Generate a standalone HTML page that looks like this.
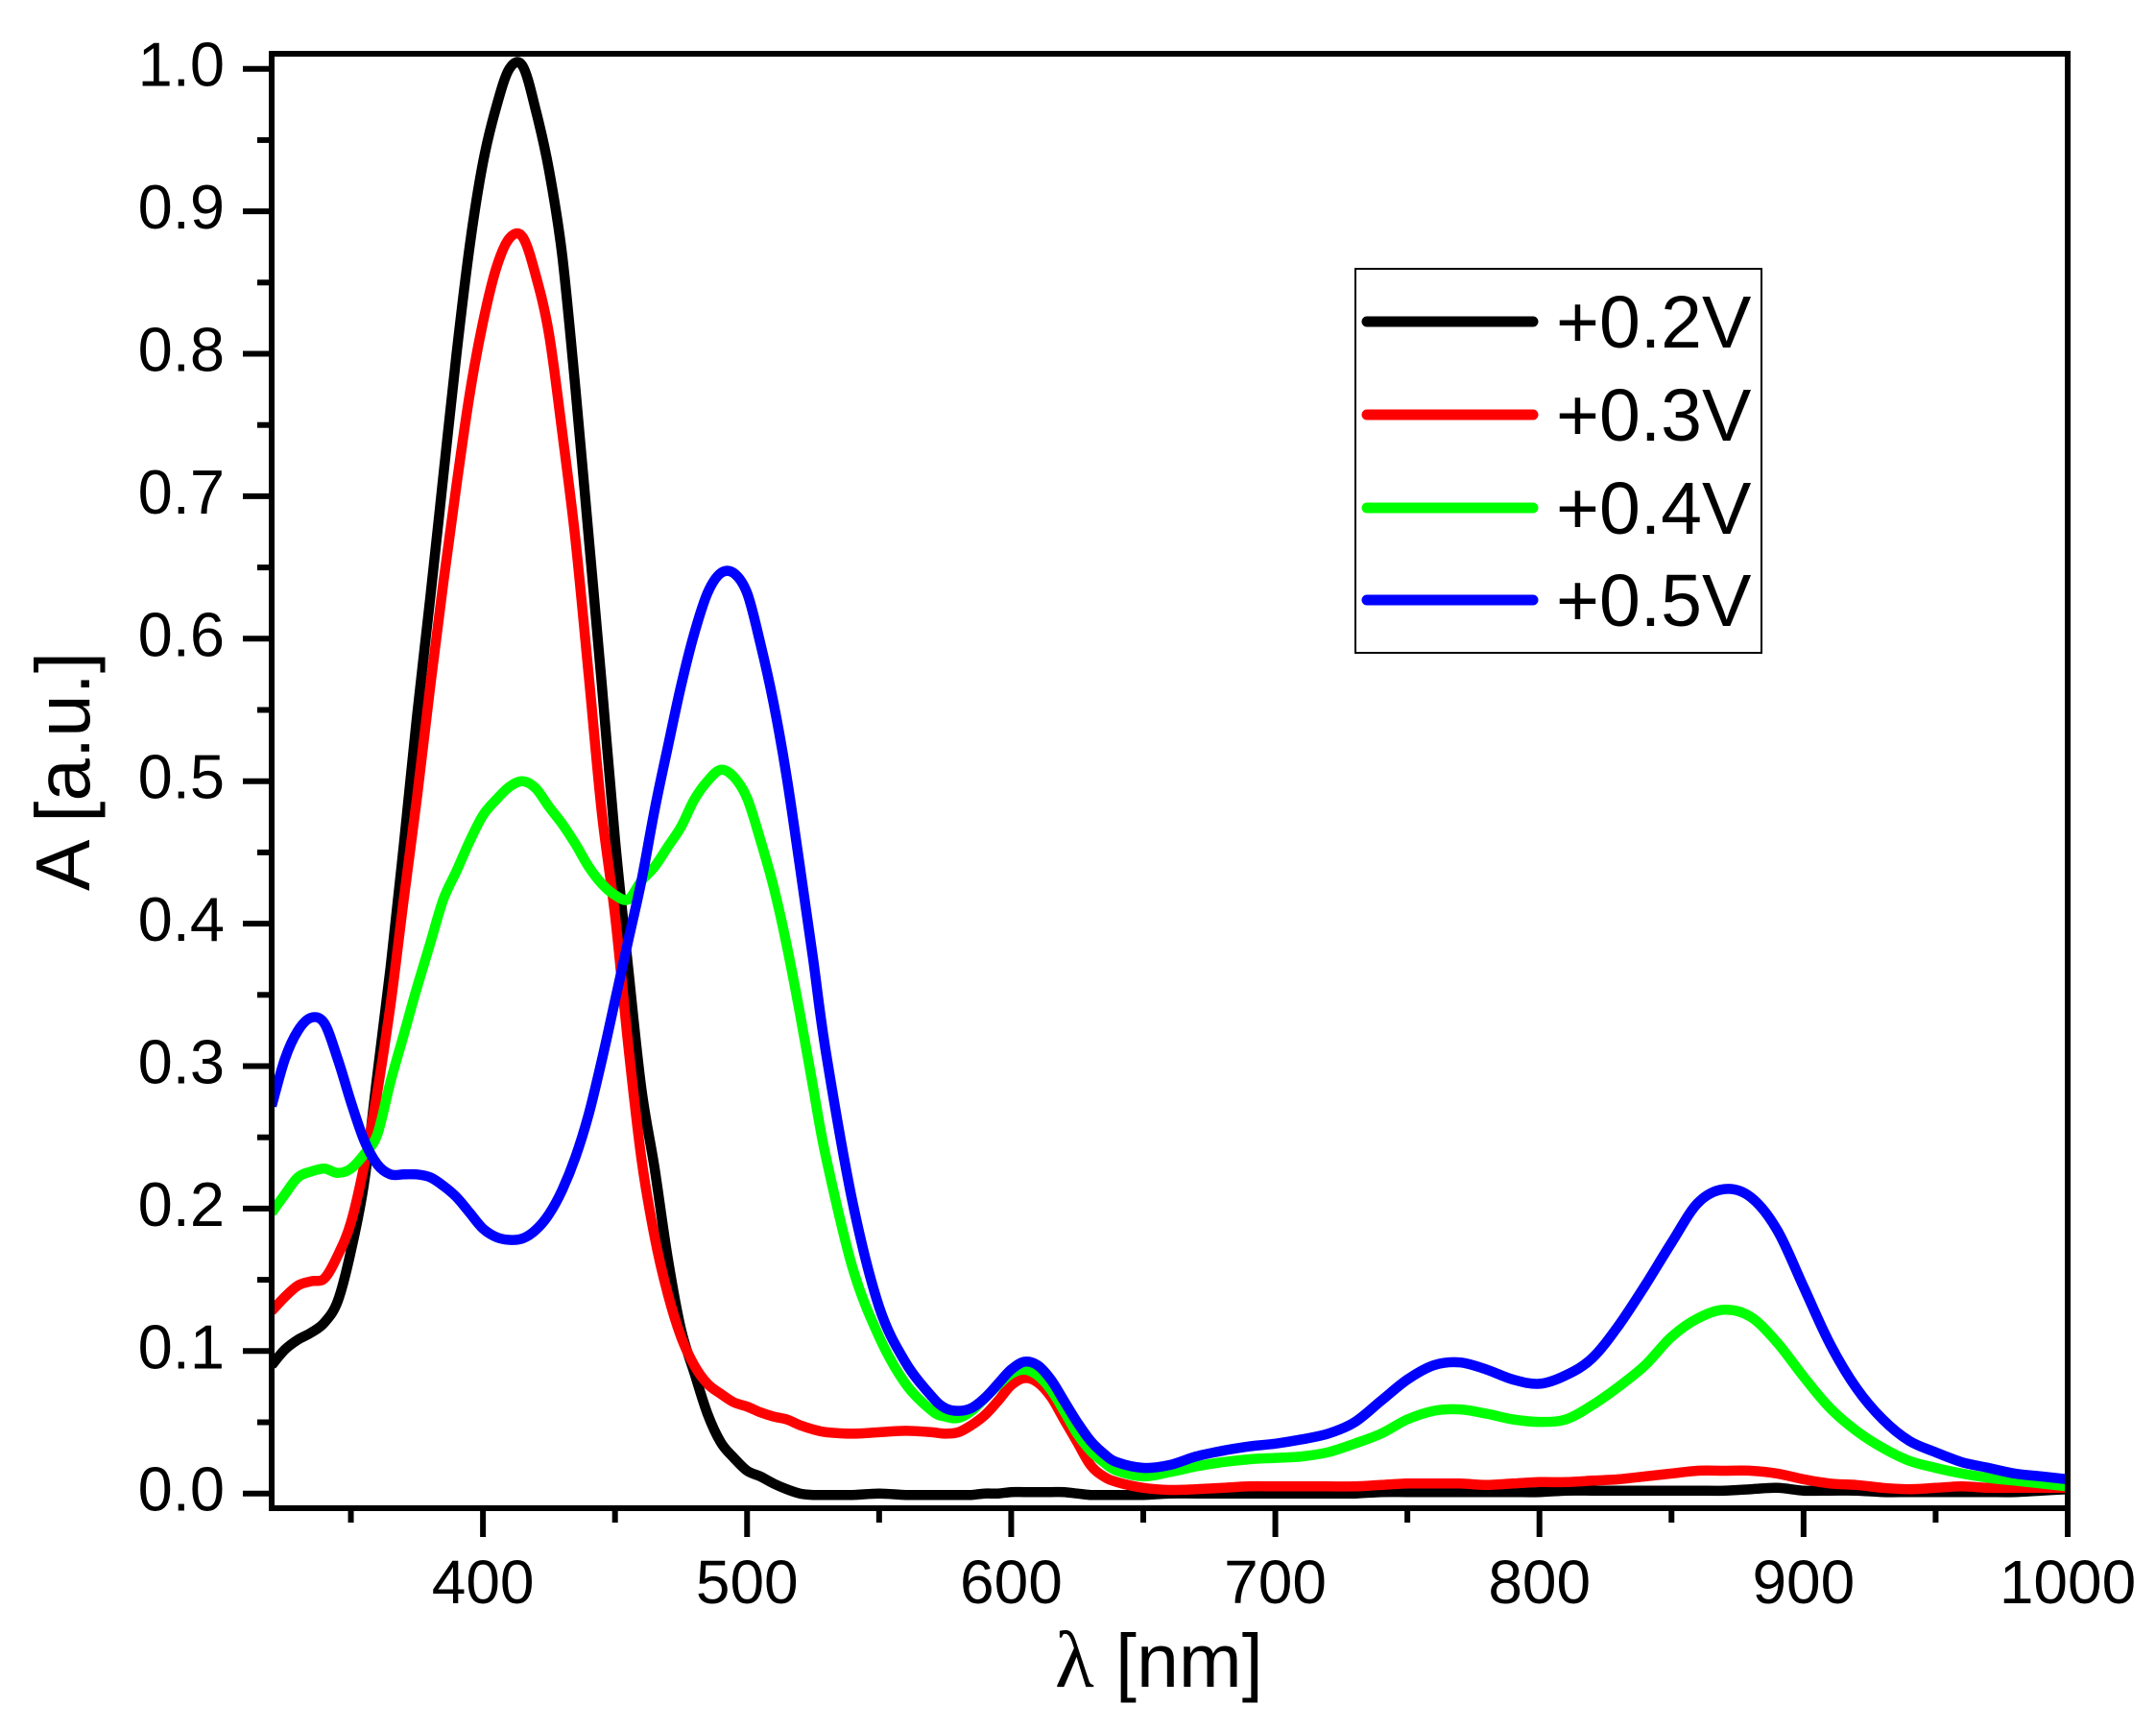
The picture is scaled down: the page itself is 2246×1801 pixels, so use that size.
<!DOCTYPE html>
<html lang="en">
<head>
<meta charset="utf-8">
<title>Absorbance spectra</title>
<style>
html,body{margin:0;padding:0;background:#fff;}
svg{display:block;}
text{font-family:"Liberation Sans",sans-serif;fill:#000;}
</style>
</head>
<body>
<svg id="chart" xmlns="http://www.w3.org/2000/svg" width="2246" height="1801" viewBox="0 0 2246 1801">
  <rect x="0" y="0" width="2246" height="1801" fill="#fff"/>
  <defs>
    <clipPath id="plot-clip"><rect x="283" y="56" width="1871" height="1515"/></clipPath>
  </defs>
  <g id="series-layer" clip-path="url(#plot-clip)"></g>
  <g id="axes-layer"></g>
  <text transform="translate(93,928) rotate(-90)" font-size="80">A [a.u.]</text>
  <text y="1757" font-size="79"><tspan x="1099" font-family="Liberation Serif" font-size="84">λ</tspan><tspan x="1162">[nm]</tspan></text>
  <g>
    <rect x="1412" y="280" width="423" height="400" fill="#fff" stroke="#000" stroke-width="2"/>
    <line x1="1424" x2="1597" y1="335" y2="335" stroke="#000" stroke-width="11" stroke-linecap="round"/>
    <text x="1621" y="362" font-size="77">+0.2V</text>
    <line x1="1424" x2="1597" y1="432" y2="432" stroke="#f00" stroke-width="11" stroke-linecap="round"/>
    <text x="1621" y="459" font-size="77">+0.3V</text>
    <line x1="1424" x2="1597" y1="529" y2="529" stroke="#0f0" stroke-width="11" stroke-linecap="round"/>
    <text x="1621" y="556" font-size="77">+0.4V</text>
    <line x1="1424" x2="1597" y1="625" y2="625" stroke="#00f" stroke-width="11" stroke-linecap="round"/>
    <text x="1621" y="652" font-size="77">+0.5V</text>
  </g>
</svg>
<script>
const wavelengths = [320,325,330,335,340,345,350,355,360,365,370,375,380,385,390,395,400,405,410,415,420,425,430,435,440,445,450,455,460,465,470,475,480,485,490,495,500,505,510,515,520,525,530,540,550,560,570,575,580,585,590,595,600,605,610,615,620,625,630,635,640,650,660,670,680,690,700,710,720,730,740,750,760,770,780,790,800,810,820,830,840,850,860,870,880,890,900,910,920,930,940,950,960,970,980,990,1000];
const seriesV02 = [.09,.101,.108,.113,.12,.135,.17,.218,.294,.369,.455,.545,.628,.714,.80,.876,.934,.973,1.0,1.002,.971,.929,.869,.776,.672,.568,.459,.369,.284,.228,.165,.115,.085,.056,.036,.025,.016,.012,.007,.003,0,-.001,-.001,-.001,0,-.001,-.001,-.001,-.001,-.001,0,0,.001,.001,.001,.001,.001,0,-.001,-.001,-.001,-.001,0,0,0,0,0,0,0,0,.001,.001,.001,.001,.001,.001,.001,.002,.002,.002,.002,.002,.002,.002,.003,.004,.002,.002,.002,.001,.001,.001,.001,.001,.001,.002,.003];
const seriesV03 = [.128,.138,.146,.149,.151,.167,.19,.23,.282,.343,.417,.488,.566,.639,.708,.772,.822,.86,.881,.882,.855,.814,.745,.67,.575,.478,.406,.315,.235,.18,.14,.11,.09,.077,.07,.064,.061,.057,.054,.052,.048,.045,.043,.042,.043,.044,.043,.042,.043,.048,.055,.065,.076,.081,.078,.068,.052,.036,.02,.012,.008,.004,.0025,.003,.004,.005,.005,.005,.005,.005,.006,.007,.007,.007,.006,.007,.008,.008,.009,.01,.012,.014,.016,.016,.016,.014,.01,.007,.006,.004,.003,.004,.005,.004,.004,.004,.004];
const seriesV04 = [.197,.21,.222,.226,.228,.225,.228,.238,.252,.289,.322,.355,.386,.417,.437,.458,.476,.487,.496,.5,.495,.482,.47,.456,.44,.428,.42,.417,.43,.44,.454,.468,.487,.5,.508,.503,.488,.459,.426,.385,.337,.285,.235,.158,.11,.077,.058,.054,.053,.058,.067,.076,.084,.087,.083,.073,.058,.042,.03,.022,.016,.012,.015,.019,.022,.024,.025,.026,.029,.035,.042,.052,.058,.059,.056,.052,.0503,.052,.062,.075,.09,.11,.123,.129,.124,.106,.082,.06,.044,.032,.023,.018,.014,.011,.009,.007,.005];
const seriesV05 = [.272,.305,.325,.334,.33,.305,.275,.248,.231,.224,.224,.224,.222,.216,.208,.197,.186,.18,.178,.179,.185,.196,.213,.236,.266,.304,.346,.388,.43,.48,.524,.567,.6035,.632,.646,.646,.632,.597,.555,.503,.44,.375,.308,.204,.131,.092,.068,.06,.058,.06,.067,.077,.087,.0925,.09,.08,.065,.05,.037,.028,.022,.018,.02,.026,.03,.033,.035,.038,.042,.05,.065,.08,.09,.092,.087,.08,.077,.083,.095,.118,.146,.176,.204,.2137,.208,.185,.145,.105,.074,.052,.037,.029,.022,.018,.014,.012,.01];
const xTickLabels = ["400","500","600","700","800","900","1000"];
const xMinorTickValues = [350,450,550,650,750,850,950];
const yTickLabels = ["0.0","0.1","0.2","0.3","0.4","0.5","0.6","0.7","0.8","0.9","1.0"];
const yMinorTickValues = [0.05,0.15,0.25,0.35,0.45,0.55,0.65,0.75,0.85,0.95];

const SVG_NS = "http://www.w3.org/2000/svg";
function xScale(v){ return 283 + (v - 320) * (2154 - 283) / 680; }
function yScale(v){ return 1555.7 - v * 1484; }

function smoothPath(xs, ys){
  const pts = xs.map((x, i) => [xScale(x), yScale(ys[i])]);
  let d = "M" + pts[0][0].toFixed(1) + "," + pts[0][1].toFixed(1);
  for (let i = 0; i < pts.length - 1; i++){
    const p0 = pts[Math.max(i - 1, 0)], p1 = pts[i], p2 = pts[i + 1], p3 = pts[Math.min(i + 2, pts.length - 1)];
    const c1x = p1[0] + (p2[0] - p0[0]) / 6, c1y = p1[1] + (p2[1] - p0[1]) / 6;
    const c2x = p2[0] - (p3[0] - p1[0]) / 6, c2y = p2[1] - (p3[1] - p1[1]) / 6;
    d += "C" + c1x.toFixed(1) + "," + c1y.toFixed(1) + " " + c2x.toFixed(1) + "," + c2y.toFixed(1) + " " + p2[0].toFixed(1) + "," + p2[1].toFixed(1);
  }
  return d;
}

const seriesLayer = document.getElementById("series-layer");
const axesLayer = document.getElementById("axes-layer");

function addSeries(values, color, name){
  const el = document.createElementNS(SVG_NS, "path");
  
  
  el.setAttribute("d", smoothPath(wavelengths, values));
  el.setAttribute("fill", "none");
  el.setAttribute("stroke", color);
  el.setAttribute("stroke-width", "10.5");
  el.setAttribute("stroke-linejoin", "round");
  seriesLayer.appendChild(el);
}
addSeries(seriesV02, "#000", "series-0.2v");
addSeries(seriesV03, "#f00", "series-0.3v");
addSeries(seriesV04, "#0f0", "series-0.4v");
addSeries(seriesV05, "#00f", "series-0.5v");

function addLine(x1, y1, x2, y2, name){
  const el = document.createElementNS(SVG_NS, "line");
  
  
  el.setAttribute("x1", x1);
  el.setAttribute("y1", y1);
  el.setAttribute("x2", x2);
  el.setAttribute("y2", y2);
  el.setAttribute("stroke", "#000");
  el.setAttribute("stroke-width", "6");
  axesLayer.appendChild(el);
}
function addLabel(x, y, str, anchor, size, name){
  const el = document.createElementNS(SVG_NS, "text");
  
  
  el.setAttribute("x", x);
  el.setAttribute("y", y);
  el.setAttribute("text-anchor", anchor);
  el.setAttribute("font-size", size);
  el.textContent = str;
  axesLayer.appendChild(el);
}

const frame = document.createElementNS(SVG_NS, "rect");


frame.setAttribute("x", 283);
frame.setAttribute("y", 56);
frame.setAttribute("width", 1871);
frame.setAttribute("height", 1515);
frame.setAttribute("fill", "none");
frame.setAttribute("stroke", "#000");
frame.setAttribute("stroke-width", "6");
axesLayer.appendChild(frame);

xTickLabels.forEach(function(label){
  const v = parseFloat(label);
  addLine(xScale(v), 1571, xScale(v), 1601, "x-major-tick");
  addLabel(xScale(v), 1670, label, "middle", 64, "x-tick-label");
});
xMinorTickValues.forEach(function(v){
  addLine(xScale(v), 1571, xScale(v), 1586, "x-minor-tick");
});
yTickLabels.forEach(function(label){
  const v = parseFloat(label);
  addLine(253, yScale(v), 283, yScale(v), "y-major-tick");
  addLabel(234, yScale(v) + 18, label, "end", 65, "y-tick-label");
});
yMinorTickValues.forEach(function(v){
  addLine(268, yScale(v), 283, yScale(v), "y-minor-tick");
});
</script>
</body>
</html>
